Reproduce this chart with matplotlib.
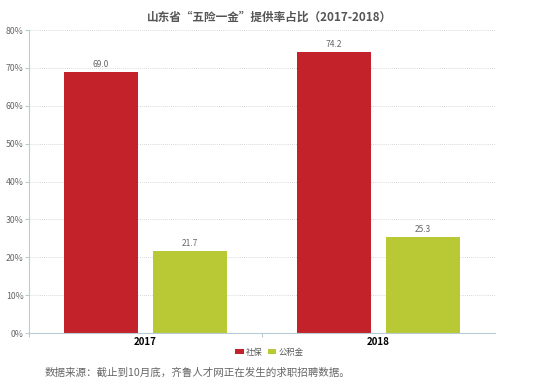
import numpy as np
import matplotlib.pyplot as plt

plt.rcParams['font.family'] = ['Noto Sans CJK SC', 'DejaVu Sans']

years = ['2017', '2018']
shebao = [69.0, 74.2]
gongjijin = [21.7, 25.3]
yticks = [0, 10, 20, 30, 40, 50, 60, 70, 80]

red = '#C4222B'
green = '#B9C935'

fig = plt.figure(figsize=(5.39, 3.90), dpi=100)
ax = fig.add_axes([0.054, 0.146, 0.864, 0.777])

x = np.arange(len(years))
w = 0.318
off = 0.192
b1 = ax.bar(x - off, shebao, w, color=red, label='社保')
b2 = ax.bar(x + off, gongjijin, w, color=green, label='公积金')

for bars, vals in ((b1, shebao), (b2, gongjijin)):
    for b, v in zip(bars, vals):
        ax.text(b.get_x() + b.get_width() / 2, v + 0.8, f'{v:.1f}',
                ha='center', va='bottom', fontsize=6, color='#666666')

ax.set_xlim(-0.5, 1.5)
ax.set_ylim(0, 80)
ax.set_yticks(yticks)
ax.set_yticklabels([f'{t}%' for t in yticks], fontsize=6.3, color='#666666')
ax.yaxis.grid(True, linestyle=(0, (1, 1.5)), color='#cccccc', linewidth=0.6)
ax.set_axisbelow(True)

ax.set_xticks([-0.5, 0.5])
ax.set_xticklabels([])
ax.set_xticks(x, minor=True)
ax.set_xticklabels(years, minor=True, fontsize=7, fontweight='bold')
ax.tick_params(axis='x', which='minor', length=0, pad=3)
ax.tick_params(axis='x', which='major', length=3, color='#b8ccd6')
ax.tick_params(axis='y', length=3, color='#b8ccd6', pad=1)

for s in ['top', 'right']:
    ax.spines[s].set_visible(False)
ax.spines['left'].set_color('#b8ccd6')
ax.spines['bottom'].set_color('#b8ccd6')

fig.text(0.5, 0.955, '山东省“五险一金”提供率占比（2017-2018）', ha='center',
         va='center', fontsize=8.4, fontweight='bold', color='#555555')

fig.legend(handles=[b1, b2], loc='center', bbox_to_anchor=(0.5, 0.097), ncol=2,
           frameon=False, fontsize=6, handlelength=1.0, handleheight=0.6,
           handletextpad=0.3, columnspacing=0.6, labelcolor='#555555')

fig.text(0.083, 0.045, '数据来源：截止到10月底，齐鲁人才网正在发生的求职招聘数据。',
         ha='left', va='center', fontsize=7.6, color='#666666')

fig.savefig('out.png', dpi=100)
